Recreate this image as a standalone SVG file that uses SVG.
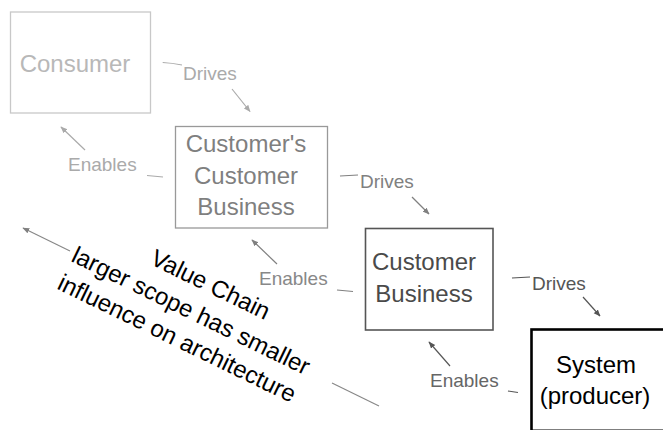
<svg xmlns="http://www.w3.org/2000/svg" width="663" height="430" viewBox="0 0 663 430">
<defs>
<style>
text{font-family:"Liberation Sans",Arial,sans-serif;}
.box{font-size:24px;text-anchor:middle;}
.lbl{font-size:19px;}
.ln{fill:none;stroke-width:1.2;}
</style>
<marker id="aL" viewBox="0 0 10 10" refX="9" refY="5" markerWidth="7" markerHeight="7" markerUnits="userSpaceOnUse" orient="auto"><path d="M0,1 L10,5 L0,9 z" fill="#aaa"/></marker>
<marker id="aM" viewBox="0 0 10 10" refX="9" refY="5" markerWidth="7" markerHeight="7" markerUnits="userSpaceOnUse" orient="auto"><path d="M0,1 L10,5 L0,9 z" fill="#808080"/></marker>
<marker id="aD" viewBox="0 0 10 10" refX="9" refY="5" markerWidth="7" markerHeight="7" markerUnits="userSpaceOnUse" orient="auto"><path d="M0,1 L10,5 L0,9 z" fill="#555"/></marker>
</defs>
<rect width="663" height="430" fill="#fff"/>

<g id="consumer">
<rect x="10.5" y="12" width="140" height="101" fill="none" stroke="#c8c8c8" stroke-width="1.3"/>
<text class="box" x="75" y="72" fill="#b8b8b8">Consumer</text>
</g>

<g id="customers-customer-business">
<rect x="175.5" y="126.5" width="152" height="101.5" fill="none" stroke="#999" stroke-width="1.3"/>
<text class="box" x="246" y="152" fill="#7f7f7f">Customer's</text>
<text class="box" x="246" y="184" fill="#7f7f7f">Customer</text>
<text class="box" x="246" y="215" fill="#7f7f7f">Business</text>
</g>

<g id="customer-business">
<rect x="365.5" y="228.5" width="127.5" height="101.5" fill="none" stroke="#555" stroke-width="1.6"/>
<text class="box" x="424" y="270" fill="#4a4a4a">Customer</text>
<text class="box" x="424" y="302" fill="#4a4a4a">Business</text>
</g>

<g id="system">
<rect x="531.5" y="329.5" width="140" height="101.3" fill="none" stroke="#000" stroke-width="2.6"/>
<text class="box" x="596" y="373" fill="#000">System</text>
<text class="box" x="595" y="404" fill="#000">(producer)</text>
</g>

<g id="connectors">
<path class="ln" d="M162.7,62.5 Q172,63 182,65" stroke="#aaa"/>
<path class="ln" d="M232,89 L250,111.5" stroke="#aaa" marker-end="url(#aL)"/>
<text class="lbl" x="183" y="80" fill="#aaa">Drives</text>

<path class="ln" d="M163,177 L147,175.5" stroke="#aaa"/>
<path class="ln" d="M85,150 L61,127" stroke="#aaa" marker-end="url(#aL)"/>
<text class="lbl" x="68" y="171" fill="#aaa">Enables</text>

<path class="ln" d="M340,176 L358,175" stroke="#808080"/>
<path class="ln" d="M412,197 L429,214" stroke="#808080" marker-end="url(#aM)"/>
<text class="lbl" x="360" y="188" fill="#808080">Drives</text>

<path class="ln" d="M353,291.5 L337,290" stroke="#808080"/>
<path class="ln" d="M277,264 L252,240" stroke="#808080" marker-end="url(#aM)"/>
<text class="lbl" x="259" y="285" fill="#888">Enables</text>

<path class="ln" d="M512,278 L530,277" stroke="#555"/>
<path class="ln" d="M583,297 L600,316" stroke="#555" marker-end="url(#aD)"/>
<text class="lbl" x="532" y="290" fill="#555">Drives</text>

<path class="ln" d="M518,392.5 L508,391" stroke="#555"/>
<path class="ln" d="M450,366 L429,342" stroke="#555" marker-end="url(#aD)"/>
<text class="lbl" x="430" y="387" fill="#666">Enables</text>

<path class="ln" d="M379,406 L332,383" stroke="#888"/>
<path class="ln" d="M70,251 L23,228" stroke="#888" marker-end="url(#aM)"/>
</g>

<g id="value-chain-note" transform="translate(70.7,261) rotate(26)" font-size="24" fill="#000" text-anchor="middle">
<text x="136" y="-32">Value Chain</text>
<text x="130" y="0">larger scope has smaller</text>
<text x="129.5" y="31">influence on architecture</text>
</g>
</svg>
